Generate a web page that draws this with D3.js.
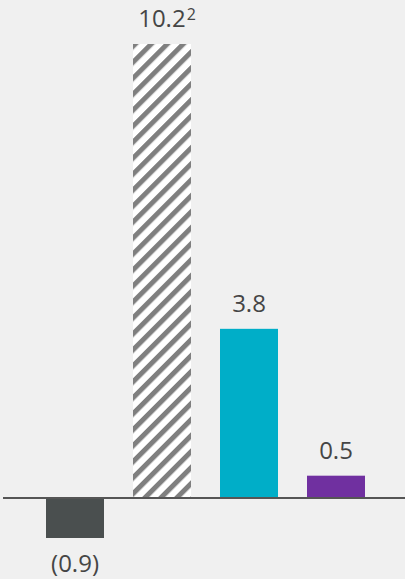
<!DOCTYPE html>
<html>
<head>
<meta charset="utf-8">
<script src="https://cdn.jsdelivr.net/npm/d3@7"></script>
<style>
  html, body { margin: 0; padding: 0; background: #f0f0f0; }
  svg { display: block; }
  text { font-family: "Open Sans", "Noto Sans", sans-serif; fill: #454545; }
</style>
</head>
<body>
<svg id="chart" width="405" height="579"></svg>
<script>
const categories = ["A", "B", "C", "D"];
const values = [-0.9, 10.2, 3.8, 0.5];
const labels = ["(0.9)", "10.2", "3.8", "0.5"];
const superscripts = ["", "2", "", ""];
const fills = ["#4a4f4f", "hatch", "#00aec8", "#7030a0"];

const W = 405, H = 579;
const svg = d3.select("#chart");

const defs = svg.append("defs");
const pat = defs.append("pattern")
  .attr("id", "hatch")
  .attr("patternUnits", "userSpaceOnUse")
  .attr("width", 11.3)
  .attr("height", 11.3)
  .attr("patternTransform", "rotate(45)");
pat.append("rect").attr("width", 11.3).attr("height", 11.3).attr("fill", "#ffffff");
pat.append("rect").attr("x", 0).attr("y", 0).attr("width", 5).attr("height", 11.3).attr("fill", "#7f7f7f");

const x = d3.scaleBand()
  .domain(categories)
  .range([31.5, 379.5])
  .paddingInner(1/3)
  .paddingOuter(1/6);

const y = d3.scaleLinear()
  .domain([-0.9, 10.2])
  .range([538, 44]);

svg.selectAll("rect.bar")
  .data(values)
  .join("rect")
  .attr("class", "bar")
  .attr("x", (d, i) => x(categories[i]))
  .attr("width", x.bandwidth())
  .attr("y", d => Math.min(y(d), y(0)))
  .attr("height", d => Math.abs(y(d) - y(0)))
  .attr("fill", (d, i) => fills[i] === "hatch" ? "url(#hatch)" : fills[i]);

svg.append("line")
  .attr("x1", 3).attr("x2", W)
  .attr("y1", y(0)).attr("y2", y(0))
  .attr("stroke", "#555")
  .attr("stroke-width", 2);

const lab = svg.selectAll("text.lab")
  .data(values)
  .join("text")
  .attr("class", "lab")
  .attr("x", (d, i) => x(categories[i]) + x.bandwidth() / 2 + (superscripts[i] ? 5 : 0))
  .attr("y", d => d >= 0 ? y(d) - 17 : y(d) + 34)
  .attr("text-anchor", "middle")
  .style("font-size", "24px");

lab.append("tspan").text((d, i) => labels[i]);
lab.filter((d, i) => superscripts[i])
  .append("tspan")
  .attr("dx", 1)
  .attr("dy", -7)
  .attr("font-size", 16)
  .style("font-size", "16px")
  .text(d => superscripts[values.indexOf(d)]);
</script>
</body>
</html>
